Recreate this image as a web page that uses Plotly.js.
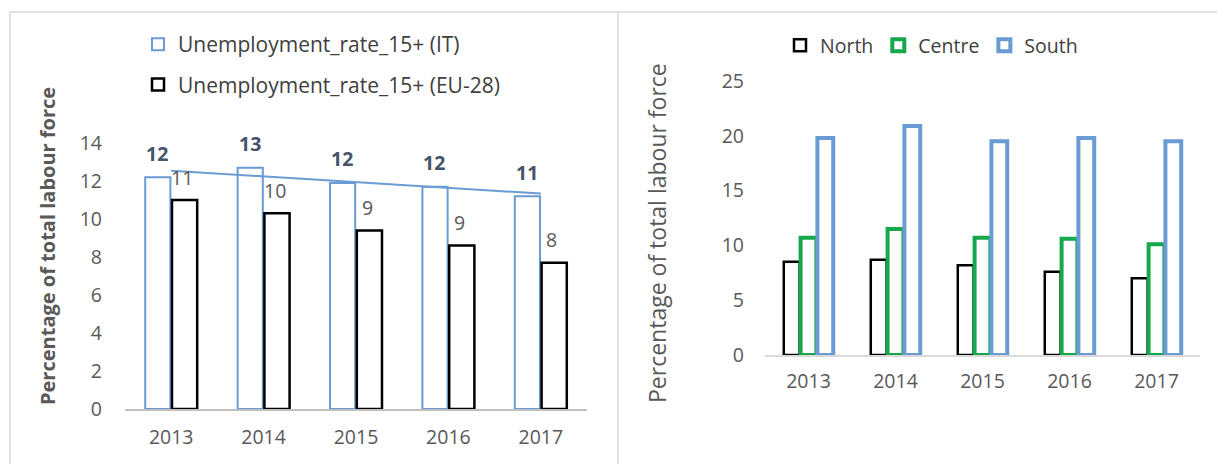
<!DOCTYPE html>
<html>
<head>
<meta charset="utf-8">
<script src="https://cdn.plot.ly/plotly-3.0.1.min.js"></script>
<style>html,body{margin:0;padding:0;background:#fff;}#chart{width:1217px;height:464px;}</style>
</head>
<body>
<div id="chart"></div>
<script>
// ---- data ----
const years = ['2013', '2014', '2015', '2016', '2017'];
const itRate = [12.2, 12.7, 11.9, 11.7, 11.2];
const euRate = [11.0, 10.3, 9.4, 8.6, 7.7];
const north = [8.5, 8.7, 8.2, 7.6, 7.0];
const centre = [10.7, 11.5, 10.7, 10.6, 10.1];
const south = [19.8, 20.9, 19.5, 19.8, 19.5];
const leftTicks = [0, 2, 4, 6, 8, 10, 12, 14];
const rightTicks = [0, 5, 10, 15, 20, 25];
const nameIT = 'Unemployment_rate_15+ (IT)';
const nameEU = 'Unemployment_rate_15+ (EU-28)';
const yTitle = 'Percentage of total labour force';

// linear trend of IT series (computed from data)
const n = itRate.length;
const xs = itRate.map((_, i) => i);
const mx = xs.reduce((a, b) => a + b, 0) / n;
const my = itRate.reduce((a, b) => a + b, 0) / n;
let sxy = 0, sxx = 0;
xs.forEach((x, i) => { sxy += (x - mx) * (itRate[i] - my); sxx += (x - mx) * (x - mx); });
const slope = sxy / sxx;
const trend = xs.map(x => my + slope * (x - mx));

const W = 1217, H = 464;
const px = v => v / W, py = v => 1 - v / H;

const blue = '#6a9bd3';
const green = '#16a84b';
const grayText = '#595959';
const font = 'Open Sans, Noto Sans, sans-serif';
const fs = 19.5;

const traces = [
  {type: 'bar', x: years, y: itRate, name: nameIT, xaxis: 'x', yaxis: 'y',
   marker: {color: '#ffffff', line: {color: blue, width: 2}}, legend: 'legend', legendgroup: 'a'},
  {type: 'bar', x: years, y: euRate, name: nameEU, xaxis: 'x', yaxis: 'y',
   marker: {color: '#ffffff', line: {color: '#000000', width: 2.5}}, legend: 'legend', legendgroup: 'b'},
  {type: 'scatter', mode: 'lines', x: years, y: trend, xaxis: 'x', yaxis: 'y', showlegend: false,
   line: {color: blue, width: 2}, hoverinfo: 'skip'},
  {type: 'bar', x: years, y: north, name: 'North', xaxis: 'x2', yaxis: 'y2',
   marker: {color: '#ffffff', line: {color: '#000000', width: 2.5}}, legend: 'legend2'},
  {type: 'bar', x: years, y: centre, name: 'Centre', xaxis: 'x2', yaxis: 'y2',
   marker: {color: '#ffffff', line: {color: green, width: 4}}, legend: 'legend2'},
  {type: 'bar', x: years, y: south, name: 'South', xaxis: 'x2', yaxis: 'y2',
   marker: {color: '#ffffff', line: {color: blue, width: 4}}, legend: 'legend2'}
];

const annotations = [];
years.forEach((yr, i) => {
  // category axes take the category index for annotation positions
  annotations.push({xref: 'x', yref: 'y', x: i, y: itRate[i], text: String(Math.round(itRate[i])),
    showarrow: false, xshift: -14, yshift: 24, font: {family: font, size: fs, color: '#44546a', weight: 'bold'}});
  annotations.push({xref: 'x', yref: 'y', x: i, y: euRate[i], text: String(Math.round(euRate[i])),
    showarrow: false, xshift: 11, yshift: 23, font: {family: font, size: fs, color: grayText}});
});
// axis titles (placed as in the reference)
annotations.push({xref: 'paper', yref: 'paper', x: px(47), y: py(246), xanchor: 'center', yanchor: 'middle',
  textangle: -90, showarrow: false, text: yTitle,
  font: {family: font, size: 20, color: grayText, weight: 'bold'}});
annotations.push({xref: 'paper', yref: 'paper', x: px(657), y: py(233), xanchor: 'center', yanchor: 'middle',
  textangle: -90, showarrow: false, text: yTitle,
  font: {family: font, size: 23, color: grayText}});

const axisFont = {family: font, size: fs, color: grayText};

const layout = {
  width: W, height: H,
  margin: {l: 0, r: 0, t: 0, b: 0},
  paper_bgcolor: '#ffffff', plot_bgcolor: 'rgba(0,0,0,0)',
  barmode: 'group', bargap: 0.42, bargroupgap: 0.06,
  showlegend: true,
  xaxis: {domain: [px(125), px(587)], anchor: 'y', type: 'category', showgrid: false, zeroline: false,
    showline: true, linecolor: '#bfbfbf', linewidth: 2, ticks: '', tickfont: axisFont, ticklabelstandoff: 10},
  yaxis: {domain: [py(409), py(143)], anchor: 'x', range: [0, 14], tickvals: leftTicks, showgrid: false,
    zeroline: false, showline: false, ticks: '', tickfont: axisFont, ticklabelstandoff: 22},
  xaxis2: {domain: [px(765), px(1200)], anchor: 'y2', type: 'category', showgrid: false, zeroline: false,
    showline: true, linecolor: '#d9d9d9', linewidth: 1.5, ticks: '', tickfont: axisFont, ticklabelstandoff: 8},
  yaxis2: {domain: [py(355), py(81)], anchor: 'x2', range: [0, 25], tickvals: rightTicks, showgrid: false,
    zeroline: false, showline: false, ticks: '', tickfont: axisFont, ticklabelstandoff: 20},
  legend: {x: px(138), y: py(24), xanchor: 'left', yanchor: 'top', orientation: 'v',
    font: {family: font, size: 21, color: '#404040'}, tracegroupgap: 10, bgcolor: 'rgba(0,0,0,0)'},
  legend2: {x: px(780), y: py(26), xanchor: 'left', yanchor: 'top', orientation: 'h',
    font: {family: font, size: fs, color: '#404040'}, bgcolor: 'rgba(0,0,0,0)'},
  annotations: annotations,
  shapes: [
    {type: 'line', xref: 'paper', yref: 'paper', x0: px(10), x1: 1, y0: py(12), y1: py(12), line: {color: '#d9d9d9', width: 1.5}},
    {type: 'line', xref: 'paper', yref: 'paper', x0: px(10), x1: px(10), y0: py(12), y1: 0, line: {color: '#d9d9d9', width: 1.5}},
    {type: 'line', xref: 'paper', yref: 'paper', x0: px(618), x1: px(618), y0: py(12), y1: 0, line: {color: '#d9d9d9', width: 1.5}}
  ]
};

Plotly.newPlot('chart', traces, layout, {displayModeBar: false, staticPlot: true});
</script>
</body>
</html>
